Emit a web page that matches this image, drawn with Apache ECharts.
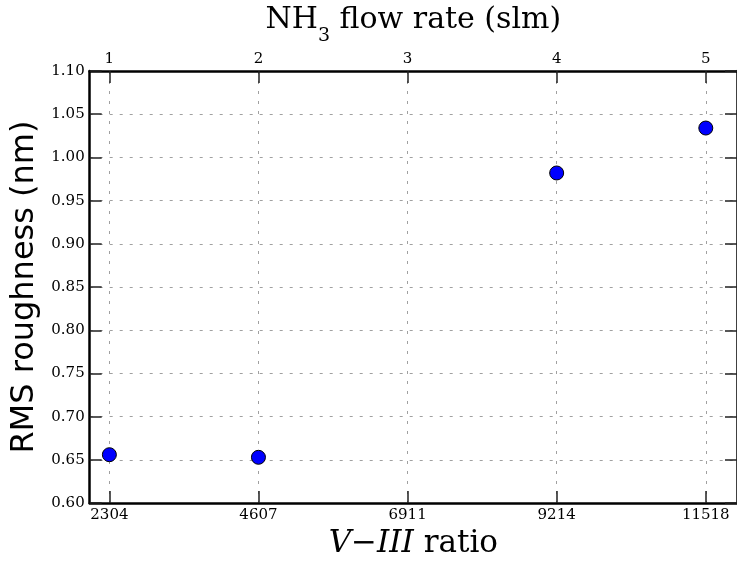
<!DOCTYPE html>
<html><head><meta charset="utf-8">
<script src="https://cdn.jsdelivr.net/npm/echarts@6/dist/echarts.min.js"></script>
<style>html,body{margin:0;padding:0;background:#fff}#c{width:737px;height:564px}</style>
</head><body><div id="c"></div>
<script>
// Data
const ratioTicks = [2304, 4607, 6911, 9214, 11518];
const flowTicks = [1, 2, 3, 4, 5];
const ratio = [2304, 4607, 9214, 11518];
const rms = [0.656, 0.653, 0.982, 1.034];
const xRange = [2000, 12000];
const yRange = [0.60, 1.10];
const yStep = 0.05;

const serif = "'DejaVu Serif', serif";
const sans = "'DejaVu Sans', sans-serif";
const gridLine = { show: true, lineStyle: { color: '#a0a0a0', width: 1, type: [3, 7] } };
const spine = { show: true, onZero: false, lineStyle: { color: '#000', width: 2.5 } };
const tick = { show: true, inside: true, length: 12, lineStyle: { color: '#222', width: 1.5 } };

const chart = echarts.init(document.getElementById('c'), null, { renderer: 'canvas' });
chart.setOption({
  animation: false,
  backgroundColor: '#fff',
  grid: { left: 89.7, top: 66, width: 652.2, height: 448, containLabel: false },
  xAxis: [
    {
      type: 'value', position: 'bottom', min: xRange[0], max: xRange[1],
      axisLine: spine,
      axisTick: Object.assign({}, tick, { customValues: ratioTicks }),
      axisLabel: { customValues: ratioTicks, fontFamily: serif, fontSize: 15, color: '#000', margin: 5,
        formatter: v => String(Math.round(v)) },
      splitLine: gridLine,
      name: '{it|V\u2212III} ratio', nameLocation: 'middle', nameGap: 21,
      nameTextStyle: { fontFamily: serif, fontSize: 31, color: '#000',
        rich: { it: { fontFamily: serif, fontSize: 31, fontStyle: 'italic', color: '#000' } } }
    },
    {
      type: 'value', position: 'top', min: xRange[0], max: xRange[1],
      axisLine: spine,
      axisTick: Object.assign({}, tick, { customValues: ratioTicks }),
      axisLabel: { customValues: ratioTicks, fontFamily: serif, fontSize: 15, color: '#000', margin: 4,
        formatter: v => String(flowTicks[ratioTicks.indexOf(Math.round(v))]) },
      splitLine: { show: false },
      name: '{a|NH}{s|3}{a| flow rate (slm)}', nameLocation: 'middle', nameGap: 26,
      nameTextStyle: { fontFamily: serif, fontSize: 30, color: '#000',
        rich: {
          a: { fontFamily: serif, fontSize: 30, color: '#000', lineHeight: 40, verticalAlign: 'top', padding: [0, 0, 0, 0] },
          s: { fontFamily: serif, fontSize: 19, color: '#000', lineHeight: 19, verticalAlign: 'top', padding: [22, 0, 0, 0] }
        } }
    }
  ],
  yAxis: [
    {
      type: 'value', position: 'left', min: yRange[0], max: yRange[1], interval: yStep,
      axisLine: spine, axisTick: tick,
      axisLabel: { fontFamily: serif, fontSize: 15, color: '#000', margin: 5, formatter: v => v.toFixed(2) },
      splitLine: gridLine,
      name: 'RMS roughness (nm)', nameLocation: 'middle', nameGap: 46, nameRotate: 90,
      nameTextStyle: { fontFamily: sans, fontSize: 32, color: '#000' }
    },
    {
      type: 'value', position: 'right', min: yRange[0], max: yRange[1], interval: yStep,
      axisLine: spine, axisTick: tick, axisLabel: { show: false }, splitLine: { show: false }
    }
  ],
  series: [{
    type: 'scatter', xAxisIndex: 0, yAxisIndex: 0,
    data: ratio.map((r, i) => [r, rms[i]]),
    symbol: 'circle', symbolSize: 14,
    itemStyle: { color: '#0000ff', borderColor: '#000', borderWidth: 1, opacity: 1 }
  }]
});
</script></body></html>
